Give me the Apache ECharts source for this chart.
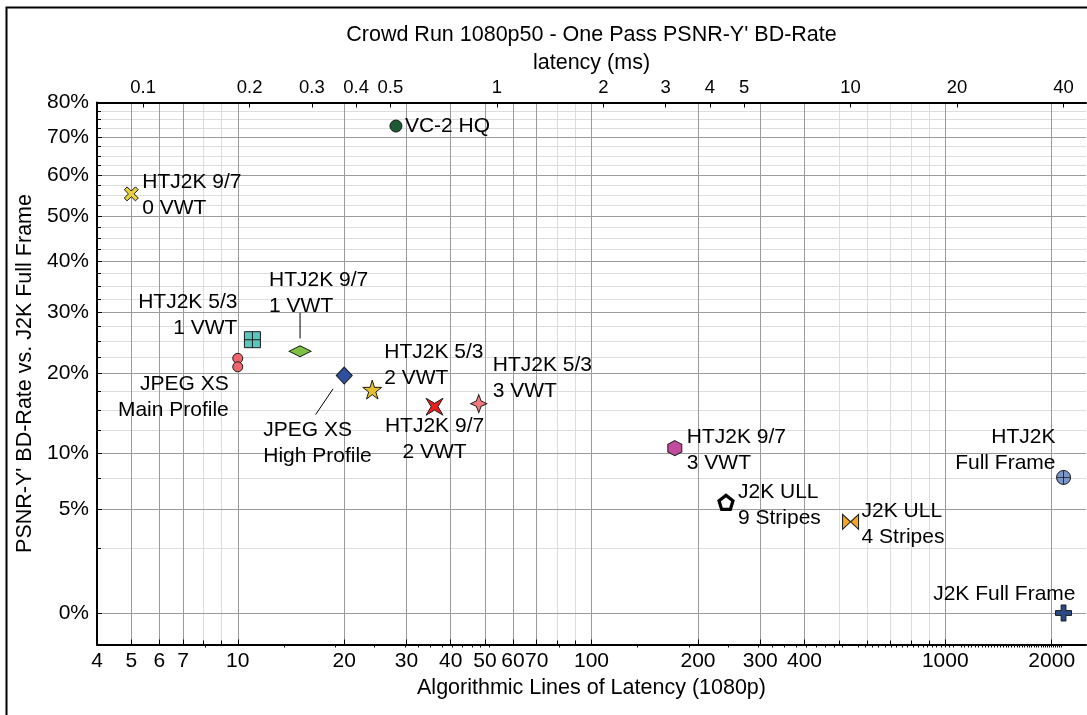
<!DOCTYPE html>
<html>
<head>
<meta charset="utf-8">
<title>Crowd Run 1080p50 - One Pass PSNR-Y' BD-Rate</title>
<script src="https://cdn.jsdelivr.net/npm/echarts@6/dist/echarts.min.js"></script>
<style>
  html, body { margin: 0; padding: 0; background: #fff; }
  #chart { width: 1087px; height: 715px; }
</style>
</head>
<body>
<div id="chart"></div>
<script>
// ---- data ---------------------------------------------------------------
const pointLabels = [
  'HTJ2K 9/7\n0 VWT', 'VC-2 HQ', 'HTJ2K 5/3\n1 VWT', 'HTJ2K 9/7\n1 VWT',
  'JPEG XS\nMain Profile', '', 'JPEG XS\nHigh Profile', 'HTJ2K 5/3\n2 VWT',
  'HTJ2K 9/7\n2 VWT', 'HTJ2K 5/3\n3 VWT', 'HTJ2K 9/7\n3 VWT', 'J2K ULL\n9 Stripes',
  'J2K ULL\n4 Stripes', 'HTJ2K\nFull Frame', 'J2K Full Frame'
];
const latencyLines = [5, 28, 11, 15, 10, 10, 20, 24, 36, 48, 172, 240, 540, 2160, 2160];
const bdRatePct    = [55.3, 73.2, 25.3, 23.4, 22.3, 21.0, 19.7, 17.7, 15.4, 15.8, 10.5, 5.5, 4.1, 7.6, 0];

const xMajorTicks = [4, 5, 6, 7, 10, 20, 30, 40, 50, 60, 70, 100, 200, 300, 400, 1000, 2000];
const xMinorTicks = [8, 9, 80, 90, 500, 600, 700, 800, 900];
const msTickLabels = [0.1, 0.2, 0.3, 0.4, 0.5, 1, 2, 3, 4, 5, 10, 20, 40];
const yMajorTicks = [0, 5, 10, 20, 30, 40, 50, 60, 70, 80];
const yMinorTicks = [2.5, 7.5, 12.5, 15, 17.5, 22.5, 25, 27.5, 32.5, 35, 37.5, 42.5, 45, 47.5,
                     52.5, 55, 57.5, 62.5, 65, 67.5, 72.5, 75, 77.5];

// annotation leaders, in (lines, %) units
const leaderLines = [
  [[15, 25.5], [15, 30.0]],
  [[18.6, 17.8], [16.6, 14.4]]
];

// ---- scales -------------------------------------------------------------
const LINES_PER_MS = 54;      // 1080 lines per 20 ms frame at 50p
const ZERO_ROW = 0.27;        // keeps the 0 % row just above the axis floor
const X_MIN_LINES = 4, X_MAX_LINES = 2500, Y_MAX_PCT = 80;

const toX = v => Math.log10(v);
const toY = p => Math.sqrt(Math.max(p, ZERO_ROW));

// minor ticks of the latency (ms) axis
const msMinorTicks = [];
for (let k = 15; k <= 95; k += 5) {
  if (![20, 30, 40, 50].includes(k)) msMinorTicks.push(k / 100);
}
for (let k = 10; k <= 400; k += 5) {
  const v = k / 10;
  if (!msTickLabels.includes(v)) msMinorTicks.push(v);
}

// ---- marker styles ------------------------------------------------------
const FONT = "'Liberation Sans', Arial, Helvetica, sans-serif";
const SYM = {
  cross:   'path://M2,0 L5,3 L8,0 L10,2 L7,5 L10,8 L8,10 L5,7 L2,10 L0,8 L3,5 L0,2 Z',
  flatDia: 'path://M0,5 L10,0 L20,5 L10,10 Z',
  star5:   'path://M50,0 L61,35 L98,35 L68,57 L79,91 L50,70 L21,91 L32,57 L2,35 L39,35 Z',
  starX:   'path://M0,0 L10,6 L20,0 L14,10 L20,20 L10,14 L0,20 L6,10 Z',
  star4:   'path://M10,0 L13,7 L20,10 L13,13 L10,20 L7,13 L0,10 L7,7 Z',
  hexagon: 'path://M10,0 L18.66,5 L18.66,15 L10,20 L1.34,15 L1.34,5 Z',
  penta:   'path://M10,0 L19.5,6.9 L15.9,18.1 L4.1,18.1 L0.5,6.9 Z',
  bowtie:  'path://M0,0 L10,8 L0,16 Z M20,0 L20,16 L10,8 Z',
  plus:    'path://M3.5,0 H6.5 V3.5 H10 V6.5 H6.5 V10 H3.5 V6.5 H0 V3.5 H3.5 Z',
  hair:    'path://M4.7,0 H5.3 V10 H4.7 Z M0,4.7 H10 V5.3 H0 Z'
};
const markerStyle = [
  { symbol: SYM.cross,   size: 14,       color: '#e9d13b', align: 'left',   offset: [11, 1.5] },
  { symbol: 'circle',    size: 12,       color: '#1b5a33', align: 'left',   offset: [9, 0] },
  { symbol: 'rect',      size: 16,       color: '#5cc5be', align: 'right',  offset: [-15, -24], hair: true },
  { symbol: SYM.flatDia, size: [22, 11], color: '#7dc143', align: 'left',   offset: [-31, -58] },
  { symbol: 'circle',    size: 10,       color: '#f0646b', align: 'right',  offset: [-9, 39] },
  { symbol: 'circle',    size: 10,       color: '#f0646b' },
  { symbol: 'diamond',   size: [16, 17], color: '#2e4f9e', align: 'left',   offset: [-81, 68] },
  { symbol: SYM.star5,   size: 19,       color: '#e9c02b', align: 'left',   offset: [12, -24] },
  { symbol: SYM.starX,   size: 17,       color: '#ee1d1d', align: 'center', offset: [0, 33] },
  { symbol: SYM.star4,   size: [16, 18], color: '#f27b7f', align: 'left',   offset: [14, -25] },
  { symbol: SYM.hexagon, size: [14, 15], color: '#c14b9d', align: 'left',   offset: [12, 2] },
  { symbol: SYM.penta,   size: 14,       color: '#ffffff', align: 'left',   offset: [12, 3], border: '#000', borderWidth: 3.2 },
  { symbol: SYM.bowtie,  size: [16, 15], color: '#f5a623', align: 'left',   offset: [11, 2] },
  { symbol: 'circle',    size: 14,       color: '#7b94ca', align: 'right',  offset: [-8, -27], hair: true },
  { symbol: SYM.plus,    size: 16,       color: '#2b4a83', align: 'right',  offset: [12, -19] }
];

const pointData = latencyLines.map((lines, i) => {
  const st = markerStyle[i];
  return {
    name: pointLabels[i],
    value: [toX(lines), toY(bdRatePct[i])],
    symbol: st.symbol,
    symbolSize: st.size,
    itemStyle: { color: st.color, borderColor: st.border || '#1a1a1a', borderWidth: st.borderWidth || 1, opacity: 1 },
    label: pointLabels[i] ? {
      show: true, position: 'inside', formatter: '{b}',
      align: st.align, verticalAlign: 'middle', offset: st.offset
    } : { show: false }
  };
});

const hairData = latencyLines
  .map((lines, i) => markerStyle[i].hair
    ? { value: [toX(lines), toY(bdRatePct[i])], symbolSize: markerStyle[i].size }
    : null)
  .filter(Boolean);

// ---- chart --------------------------------------------------------------
const xRange = { min: toX(X_MIN_LINES), max: toX(X_MAX_LINES) };
const yRange = { min: 0, max: toY(Y_MAX_PCT) };
const textBase = { color: '#000', fontFamily: FONT };

const option = {
  animation: false,
  backgroundColor: '#fff',
  textStyle: { fontFamily: FONT, color: '#000' },
  title: {
    text: "Crowd Run 1080p50 - One Pass PSNR-Y' BD-Rate",
    left: 591.5, top: 24, textAlign: 'center', padding: 0,
    textStyle: Object.assign({ fontSize: 21.5, fontWeight: 'normal' }, textBase)
  },
  graphic: [{
    type: 'rect', left: 4, top: 5, silent: true,
    shape: { width: 1200, height: 800 },
    style: { fill: 'none', stroke: '#000', lineWidth: 2 }
  }],
  grid: { left: 97, right: 1, top: 102.5, bottom: 70.5, outerBoundsMode: 'none', containLabel: false },
  xAxis: [
    { // light grid at 8, 9, 80, 90, 500 ... 900
      type: 'value', position: 'bottom', ...xRange, z: 0,
      axisLine: { show: false }, axisLabel: { show: false },
      axisTick: { show: true, inside: true, length: 4, customValues: xMinorTicks.map(toX),
                  lineStyle: { color: '#000' } },
      splitLine: { show: true, lineStyle: { color: '#dddddd', width: 1 } }
    },
    { // lines of latency
      type: 'value', position: 'bottom', ...xRange, z: 1,
      axisLine: { show: true, onZero: false, lineStyle: { color: '#000', width: 2 } },
      axisTick: { show: true, inside: true, length: 5, customValues: xMajorTicks.map(toX),
                  lineStyle: { color: '#000' } },
      axisLabel: { show: true, customValues: xMajorTicks.map(toX), margin: 6, fontSize: 21, ...textBase,
                   formatter: v => String(Math.round(Math.pow(10, v))) },
      splitLine: { show: true, lineStyle: { color: '#9b9b9b', width: 1 } },
      name: 'Algorithmic Lines of Latency (1080p)', nameLocation: 'middle', nameGap: 33,
      nameTextStyle: Object.assign({ fontSize: 21.5 }, textBase)
    },
    { // latency in ms
      type: 'value', position: 'top', ...xRange, z: 1,
      axisLine: { show: true, onZero: false, lineStyle: { color: '#000', width: 2 } },
      axisTick: { show: true, inside: true, length: 5,
                  customValues: msTickLabels.map(ms => toX(ms * LINES_PER_MS)), lineStyle: { color: '#000' } },
      axisLabel: { show: true, customValues: msTickLabels.map(ms => toX(ms * LINES_PER_MS)),
                   margin: 5, fontSize: 18.5, ...textBase,
                   formatter: v => String(parseFloat((Math.pow(10, v) / LINES_PER_MS).toFixed(2))) },
      splitLine: { show: false },
      name: 'latency (ms)', nameLocation: 'middle', nameGap: 26,
      nameTextStyle: Object.assign({ fontSize: 21.5 }, textBase)
    },
    { // minor ms ticks
      type: 'value', position: 'top', ...xRange, z: 1,
      axisLine: { show: false }, axisLabel: { show: false }, splitLine: { show: false },
      axisTick: { show: true, inside: true, length: 3,
                  customValues: msMinorTicks.map(ms => toX(ms * LINES_PER_MS)), lineStyle: { color: '#000' } }
    }
  ],
  yAxis: [
    { // light grid every 2.5 %
      type: 'value', position: 'left', ...yRange, z: 0,
      axisLine: { show: false }, axisLabel: { show: false },
      axisTick: { show: true, inside: true, length: 4, customValues: yMinorTicks.map(toY),
                  lineStyle: { color: '#000' } },
      splitLine: { show: true, lineStyle: { color: '#dddddd', width: 1 } }
    },
    {
      type: 'value', position: 'left', ...yRange, z: 1,
      axisLine: { show: true, onZero: false, lineStyle: { color: '#000', width: 2 } },
      axisTick: { show: true, inside: true, length: 5, customValues: yMajorTicks.map(toY),
                  lineStyle: { color: '#000' } },
      axisLabel: { show: true, customValues: yMajorTicks.map(toY), margin: 8, fontSize: 21, ...textBase,
                   formatter: v => Math.round(v * v) + '%' },
      splitLine: { show: true, lineStyle: { color: '#9b9b9b', width: 1 } },
      name: "PSNR-Y' BD-Rate vs. J2K Full Frame", nameLocation: 'middle', nameGap: 61,
      nameTextStyle: Object.assign({ fontSize: 21.5 }, textBase)
    }
  ],
  series: [
    ...leaderLines.map(seg => ({
      type: 'line', xAxisIndex: 1, yAxisIndex: 1, silent: true, symbol: 'none', z: 3,
      lineStyle: { color: '#000', width: 1, opacity: 1 },
      data: seg.map(([l, p]) => [toX(l), toY(p)])
    })),
    {
      type: 'scatter', xAxisIndex: 1, yAxisIndex: 1, z: 4,
      itemStyle: { opacity: 1 },
      label: { color: '#000', opacity: 1, fontSize: 21, fontFamily: FONT, lineHeight: 26, textBorderWidth: 0 },
      emphasis: { disabled: true },
      data: pointData
    },
    {
      type: 'scatter', xAxisIndex: 1, yAxisIndex: 1, z: 5, silent: true,
      symbol: SYM.hair, itemStyle: { color: '#1a1a1a', opacity: 1 },
      emphasis: { disabled: true },
      data: hairData
    }
  ]
};

const chart = echarts.init(document.getElementById('chart'), null, { renderer: 'canvas' });
chart.setOption(option);
</script>
</body>
</html>
